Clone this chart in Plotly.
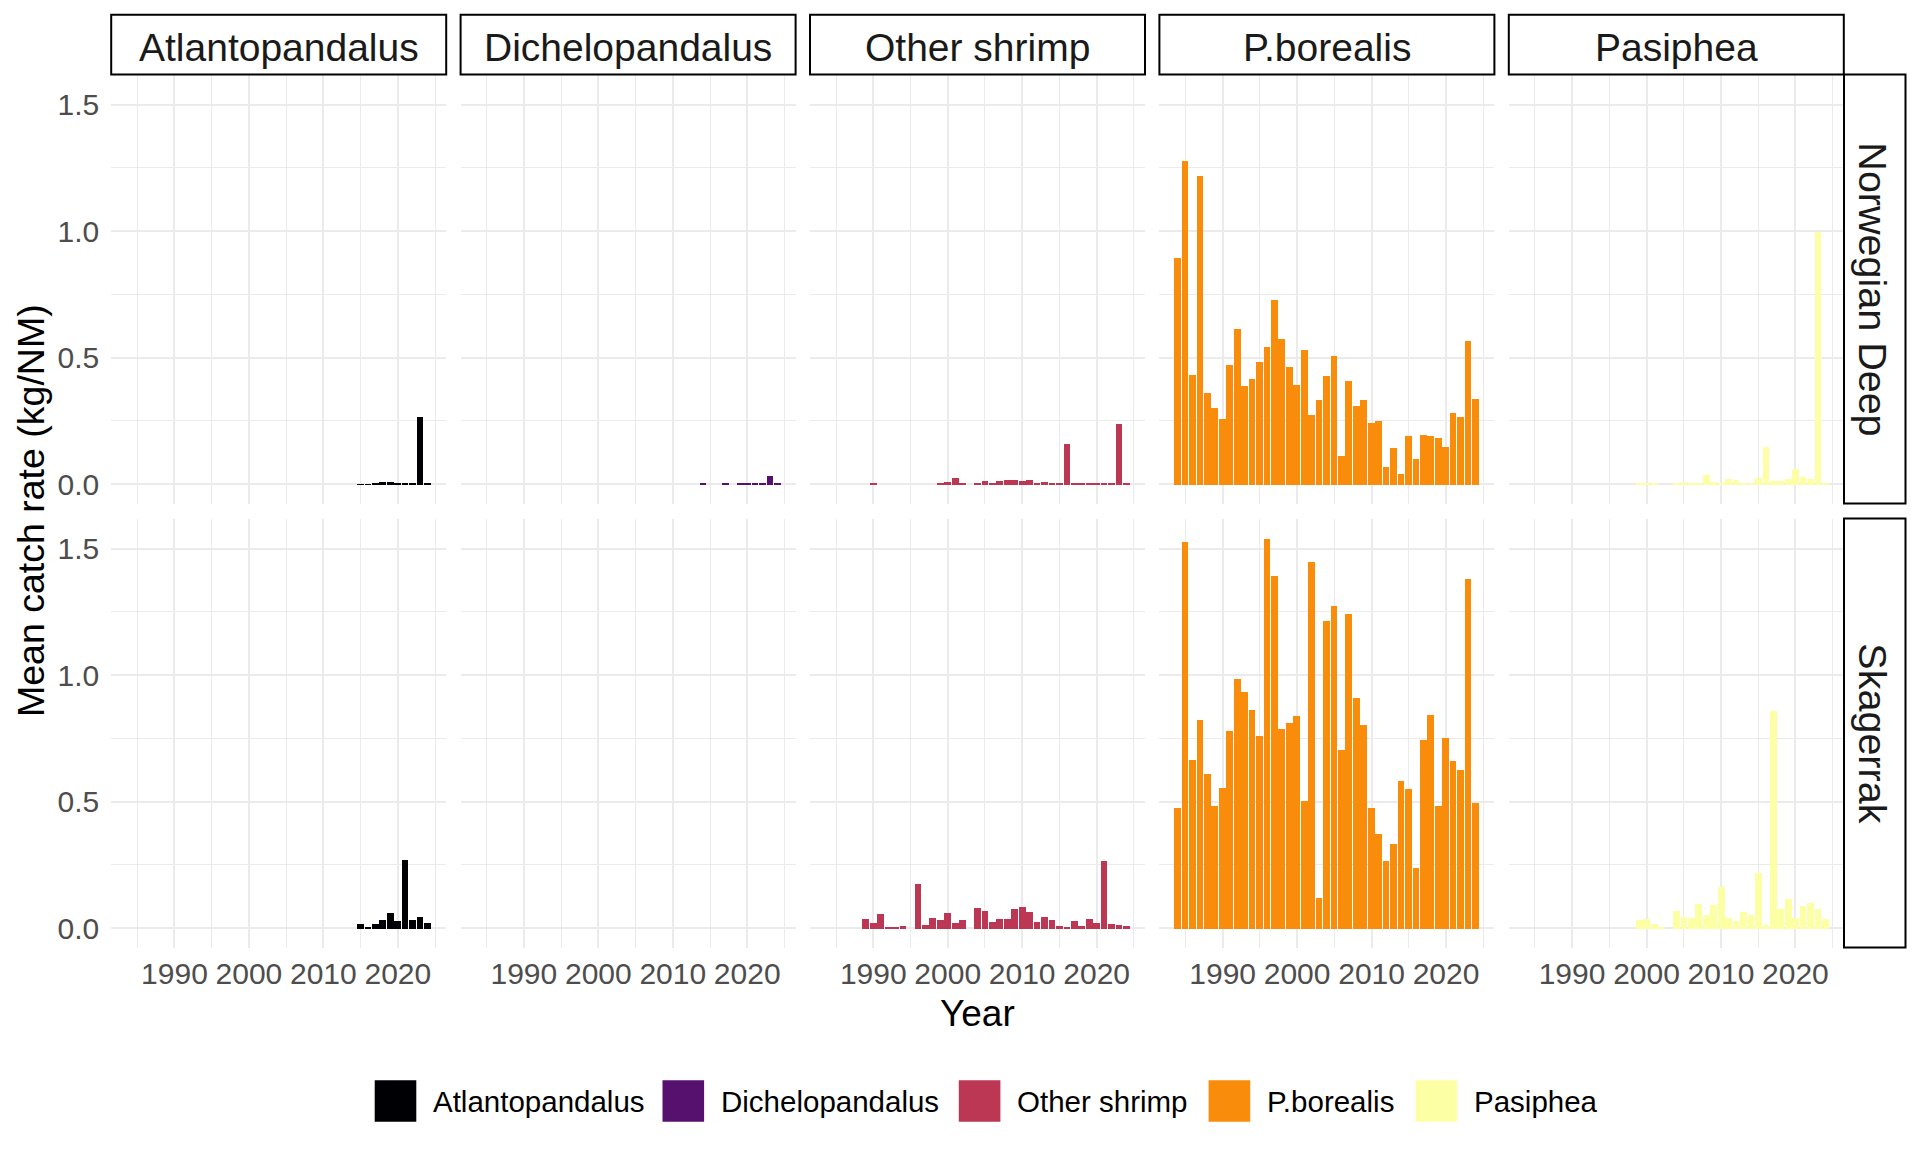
import plotly.graph_objects as go

# ---------------- data ----------------
species = ["Atlantopandalus", "Dichelopandalus", "Other shrimp", "P.borealis", "Pasiphea"]
regions = ["Norwegian Deep", "Skagerrak"]
species_colors = ["#000004", "#56106E", "#BB3754", "#F98C0A", "#FCFFA4"]
x_tick_labels = [1990, 2000, 2010, 2020]
x_minor_ticks = [1985, 1995, 2005, 2015, 2025]
y_tick_labels = [0.0, 0.5, 1.0, 1.5]
y_minor_ticks = [0.25, 0.75, 1.25]

atl_nd_years = [2015, 2016, 2017, 2018, 2019, 2020, 2021, 2022, 2023, 2024]
atl_nd_vals = [0.001, 0.001, 0.005, 0.009, 0.009, 0.002, 0.005, 0.005, 0.267, 0.002]
atl_sk_years = [2015, 2016, 2017, 2018, 2019, 2020, 2021, 2022, 2023, 2024]
atl_sk_vals = [0.019, 0.007, 0.019, 0.035, 0.063, 0.031, 0.270, 0.035, 0.047, 0.023]

dic_nd_years = [2014, 2017, 2019, 2020, 2021, 2022, 2023, 2024]
dic_nd_vals = [0.003, 0.003, 0.003, 0.003, 0.003, 0.003, 0.032, 0.007]
dic_sk_years = []
dic_sk_vals = []

oth_nd_years = [1990, 1999, 2000, 2001, 2002, 2004, 2005, 2006, 2007, 2008, 2009, 2010,
                2011, 2012, 2013, 2014, 2015, 2016, 2017, 2018, 2019, 2020, 2021, 2022,
                2023, 2024]
oth_nd_vals = [0.003, 0.003, 0.009, 0.025, 0.005, 0.005, 0.013, 0.002, 0.013, 0.017, 0.017, 0.013,
               0.017, 0.005, 0.009, 0.002, 0.002, 0.162, 0.002, 0.002, 0.005, 0.002, 0.002, 0.002,
               0.238, 0.002]
oth_sk_years = [1989, 1990, 1991, 1992, 1993, 1994, 1996, 1997, 1998, 1999, 2000, 2001, 2002,
                2004, 2005, 2006, 2007, 2008, 2009, 2010, 2011, 2012, 2013, 2014, 2015, 2016,
                2017, 2018, 2019, 2020, 2021, 2022, 2023, 2024]
oth_sk_vals = [0.039, 0.023, 0.059, 0.003, 0.003, 0.011, 0.174, 0.015, 0.043, 0.035, 0.063, 0.023, 0.035,
               0.082, 0.070, 0.027, 0.039, 0.039, 0.078, 0.086, 0.066, 0.027, 0.047, 0.035, 0.011, 0.003,
               0.031, 0.011, 0.039, 0.023, 0.266, 0.019, 0.015, 0.011]

pb_years = [1984, 1985, 1986, 1987, 1988, 1989, 1990, 1991, 1992, 1993, 1994, 1995, 1996, 1997,
            1998, 1999, 2000, 2001, 2002, 2003, 2004, 2005, 2006, 2007, 2008, 2009, 2010, 2011,
            2012, 2013, 2014, 2015, 2016, 2017, 2018, 2019, 2020, 2021, 2022, 2023, 2024]
pb_nd_vals = [0.895, 1.278, 0.433, 1.218, 0.362, 0.303, 0.259, 0.472, 0.614, 0.389, 0.417, 0.484,
              0.543, 0.729, 0.575, 0.464, 0.393, 0.532, 0.275, 0.334, 0.429, 0.508, 0.113, 0.409,
              0.311, 0.334, 0.243, 0.251, 0.070, 0.145, 0.042, 0.192, 0.101, 0.196, 0.192, 0.184,
              0.149, 0.283, 0.267, 0.567, 0.338]
pb_sk_vals = [0.478, 1.530, 0.668, 0.826, 0.612, 0.485, 0.557, 0.782, 0.988, 0.937, 0.865, 0.763,
              1.542, 1.392, 0.790, 0.814, 0.842, 0.505, 1.451, 0.121, 1.214, 1.277, 0.707, 1.245,
              0.913, 0.806, 0.478, 0.375, 0.268, 0.335, 0.584, 0.553, 0.240, 0.747, 0.846, 0.485,
              0.755, 0.664, 0.628, 1.380, 0.497]

pas_nd_years = [1999, 2000, 2001, 2004, 2005, 2006, 2007, 2008, 2009, 2010, 2011, 2012, 2013,
                2014, 2015, 2016, 2017, 2018, 2019, 2020, 2021, 2022, 2023, 2024]
pas_nd_vals = [0.002, 0.005, 0.005, 0.002, 0.009, 0.002, 0.005, 0.037, 0.009, 0.005, 0.021, 0.017, 0.002,
               0.002, 0.025, 0.150, 0.013, 0.013, 0.021, 0.061, 0.029, 0.021, 1.000, 0.005]
pas_sk_years = [1999, 2000, 2001, 2002, 2004, 2005, 2006, 2007, 2008, 2009, 2010, 2011, 2012,
                2013, 2014, 2015, 2016, 2017, 2018, 2019, 2020, 2021, 2022, 2023, 2024]
pas_sk_vals = [0.035, 0.039, 0.019, 0.007, 0.070, 0.046, 0.042, 0.098, 0.054, 0.094, 0.166, 0.042, 0.031,
               0.066, 0.054, 0.218, 0.015, 0.859, 0.078, 0.118, 0.042, 0.090, 0.102, 0.078, 0.039]

series = {
    ("Atlantopandalus", "Norwegian Deep"): (atl_nd_years, atl_nd_vals),
    ("Atlantopandalus", "Skagerrak"): (atl_sk_years, atl_sk_vals),
    ("Dichelopandalus", "Norwegian Deep"): (dic_nd_years, dic_nd_vals),
    ("Dichelopandalus", "Skagerrak"): (dic_sk_years, dic_sk_vals),
    ("Other shrimp", "Norwegian Deep"): (oth_nd_years, oth_nd_vals),
    ("Other shrimp", "Skagerrak"): (oth_sk_years, oth_sk_vals),
    ("P.borealis", "Norwegian Deep"): (pb_years, pb_nd_vals),
    ("P.borealis", "Skagerrak"): (pb_years, pb_sk_vals),
    ("Pasiphea", "Norwegian Deep"): (pas_nd_years, pas_nd_vals),
    ("Pasiphea", "Skagerrak"): (pas_sk_years, pas_sk_vals),
}

# ---------------- layout geometry (pixels) ----------------
W, H = 1920, 1152
FONT = "Liberation Sans, Arial, sans-serif"
col_left = [111.2, 460.6, 810.0, 1159.4, 1508.8]
col_w = 335.0
row_top = [74.6, 518.6]
row_h = 429.0
strip_top = (14.7, 74.6)
strip_right = (1844.0, 1905.5)
BAR_W = 0.9

# shared scales (ggplot-like 5% expansion)
all_years = [y for ys, _ in series.values() for y in ys]
all_vals = [v for _, vs in series.values() for v in vs]
x_lo, x_hi = min(all_years) - BAR_W / 2, max(all_years) + BAR_W / 2
x_pad = (x_hi - x_lo) * 0.05
x_range = [x_lo - x_pad, x_hi + x_pad]
y_hi = max(all_vals)
y_range = [-y_hi * 0.05, y_hi * 1.05]


def px_x(p):
    return p / W


def px_y(p):
    return 1 - p / H


fig = go.Figure()
shapes = []
annotations = []

for r, region in enumerate(regions):
    for c, sp in enumerate(species):
        k = r * 5 + c + 1
        sfx = "" if k == 1 else str(k)
        yrs, vals = series[(sp, region)]
        fig.add_trace(go.Bar(
            x=yrs, y=vals, width=BAR_W,
            marker=dict(color=species_colors[c], line=dict(width=0)),
            xaxis="x" + sfx, yaxis="y" + sfx, showlegend=False,
            name=sp,
        ))
        xa = dict(
            domain=[px_x(col_left[c]), px_x(col_left[c] + col_w)],
            range=x_range, anchor="y" + sfx,
            tickmode="array", tickvals=x_tick_labels,
            ticktext=[str(v) for v in x_tick_labels],
            showticklabels=(r == 1), ticks="",
            showgrid=True, gridcolor="#EBEBEB", gridwidth=1.6,
            minor=dict(tickmode="array", tickvals=x_minor_ticks, showgrid=True,
                       gridcolor="#EBEBEB", gridwidth=0.9, ticks=""),
            zeroline=False, showline=False, fixedrange=True,
            tickfont=dict(family=FONT, size=30, color="#4D4D4D"),
            ticklabelstandoff=5,
        )
        ya = dict(
            domain=[px_y(row_top[r] + row_h), px_y(row_top[r])],
            range=y_range, anchor="x" + sfx,
            tickmode="array", tickvals=y_tick_labels,
            ticktext=["%.1f" % v for v in y_tick_labels],
            showticklabels=(c == 0), ticks="",
            showgrid=True, gridcolor="#EBEBEB", gridwidth=1.6,
            minor=dict(tickmode="array", tickvals=y_minor_ticks, showgrid=True,
                       gridcolor="#EBEBEB", gridwidth=0.9, ticks=""),
            zeroline=False, showline=False, fixedrange=True,
            tickfont=dict(family=FONT, size=30, color="#4D4D4D"),
            ticklabelstandoff=11,
        )
        fig.layout["xaxis" + sfx] = xa
        fig.layout["yaxis" + sfx] = ya

# top strips
for c, sp in enumerate(species):
    shapes.append(dict(type="rect", xref="paper", yref="paper",
                       x0=px_x(col_left[c]), x1=px_x(col_left[c] + col_w),
                       y0=px_y(strip_top[1]), y1=px_y(strip_top[0]),
                       line=dict(color="black", width=2), fillcolor="white"))
    annotations.append(dict(xref="paper", yref="paper",
                            x=px_x(col_left[c] + col_w / 2), y=px_y(sum(strip_top) / 2 + 3),
                            text=sp, showarrow=False, xanchor="center", yanchor="middle",
                            font=dict(family=FONT, size=39, color="#1A1A1A")))
# right strips
for r, region in enumerate(regions):
    shapes.append(dict(type="rect", xref="paper", yref="paper",
                       x0=px_x(strip_right[0]), x1=px_x(strip_right[1]),
                       y0=px_y(row_top[r] + row_h), y1=px_y(row_top[r]),
                       line=dict(color="black", width=2), fillcolor="white"))
    annotations.append(dict(xref="paper", yref="paper",
                            x=px_x(sum(strip_right) / 2 - 2), y=px_y(row_top[r] + row_h / 2),
                            text=region, showarrow=False, textangle=90,
                            xanchor="center", yanchor="middle",
                            font=dict(family=FONT, size=39.5, color="#1A1A1A")))

# axis titles
annotations.append(dict(xref="paper", yref="paper", x=px_x(977), y=px_y(1013),
                        text="Year", showarrow=False, xanchor="center", yanchor="middle",
                        font=dict(family=FONT, size=37, color="black")))
annotations.append(dict(xref="paper", yref="paper", x=px_x(31), y=px_y(511),
                        text="Mean catch rate (kg/NM)", showarrow=False, textangle=-90,
                        xanchor="center", yanchor="middle",
                        font=dict(family=FONT, size=37.5, color="black")))

# legend (drawn as keys + labels)
key_x = [374.7, 662.5, 958.8, 1208.6, 1415.6]
key_size = 41.6
key_cy = 1101
for c, sp in enumerate(species):
    shapes.append(dict(type="rect", xref="paper", yref="paper",
                       x0=px_x(key_x[c]), x1=px_x(key_x[c] + key_size),
                       y0=px_y(key_cy + key_size / 2), y1=px_y(key_cy - key_size / 2),
                       line=dict(width=0), fillcolor=species_colors[c]))
    annotations.append(dict(xref="paper", yref="paper",
                            x=px_x(key_x[c] + key_size + 15), y=px_y(key_cy),
                            text=sp, showarrow=False, xanchor="left", yanchor="middle",
                            font=dict(family=FONT, size=29.5, color="black")))

fig.update_layout(
    width=W, height=H,
    margin=dict(l=0, r=0, t=0, b=0),
    paper_bgcolor="white", plot_bgcolor="white",
    barmode="overlay", bargap=0,
    shapes=shapes, annotations=annotations,
    showlegend=False,
    font=dict(family=FONT),
)

fig.write_html("out.html", config={"displayModeBar": False},
               post_script="document.body.style.margin='0';")
